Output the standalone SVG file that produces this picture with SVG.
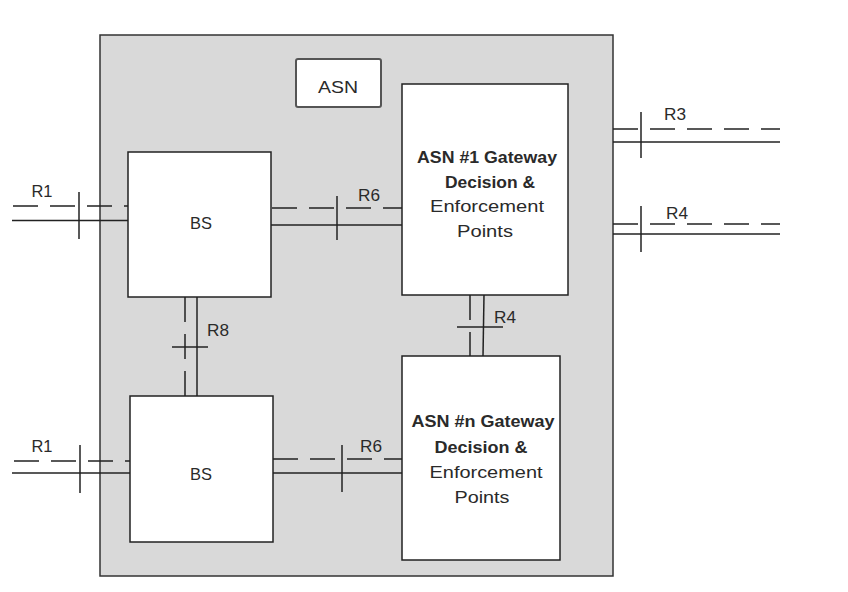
<svg xmlns="http://www.w3.org/2000/svg" width="848" height="592" viewBox="0 0 848 592">
<defs>
<style>
.bg{fill:#ffffff}
.asn{fill:#d9d9d9;stroke:#333333;stroke-width:1.5}
.box{fill:#ffffff;stroke:#222222;stroke-width:1.5}
.lbl{fill:#ffffff;stroke:#555555;stroke-width:2}
.t{font-family:"Liberation Sans",Arial,sans-serif;font-size:16.5px;fill:#2a2a2a}
.b{font-weight:bold}
.s{stroke:#222222;stroke-width:1.5;fill:none}
.d{stroke:#222222;stroke-width:1.5;fill:none;stroke-dasharray:25 12}
</style>
</defs>
<rect class="bg" x="0" y="0" width="848" height="592"/>
<g id="asn-domain">
<rect class="asn" x="100" y="35" width="513" height="541"/>
</g>
<g id="asn-label">
<rect class="lbl" x="296" y="59" width="85" height="48" rx="2"/>
<text class="t" x="338" y="93" text-anchor="middle" font-size="18" textLength="40" lengthAdjust="spacingAndGlyphs">ASN</text>
</g>
<g id="bs-top">
<rect class="box" x="128" y="152" width="143" height="145"/>
<text class="t" x="201" y="229" text-anchor="middle" textLength="22" lengthAdjust="spacingAndGlyphs">BS</text>
</g>
<g id="bs-bottom">
<rect class="box" x="130" y="396" width="143" height="146"/>
<text class="t" x="201" y="480" text-anchor="middle" textLength="22" lengthAdjust="spacingAndGlyphs">BS</text>
</g>
<g id="gw-1">
<rect class="box" x="402" y="84" width="166" height="211"/>
<text class="t b" x="487" y="163" text-anchor="middle" textLength="140" lengthAdjust="spacingAndGlyphs">ASN #1 Gateway</text>
<text class="t b" x="490" y="188" text-anchor="middle" textLength="90" lengthAdjust="spacingAndGlyphs">Decision &amp;</text>
<text class="t" x="487" y="212" text-anchor="middle" textLength="114" lengthAdjust="spacingAndGlyphs">Enforcement</text>
<text class="t" x="485" y="237" text-anchor="middle" textLength="56" lengthAdjust="spacingAndGlyphs">Points</text>
</g>
<g id="gw-n">
<rect class="box" x="402" y="356" width="158" height="204"/>
<text class="t b" x="483" y="427" text-anchor="middle" textLength="143" lengthAdjust="spacingAndGlyphs">ASN #n Gateway</text>
<text class="t b" x="481" y="453" text-anchor="middle" textLength="93" lengthAdjust="spacingAndGlyphs">Decision &amp;</text>
<text class="t" x="486" y="478" text-anchor="middle" textLength="113" lengthAdjust="spacingAndGlyphs">Enforcement</text>
<text class="t" x="482" y="503" text-anchor="middle" textLength="55" lengthAdjust="spacingAndGlyphs">Points</text>
</g>
<g id="connectors">
<line class="d" x1="13" y1="206" x2="128" y2="206"/>
<line class="s" x1="12" y1="220.5" x2="128" y2="220.5"/>
<line class="s" x1="79" y1="192" x2="79" y2="239"/>
<text class="t" x="42" y="197" text-anchor="middle" textLength="21" lengthAdjust="spacingAndGlyphs">R1</text>
<line class="d" x1="272" y1="208" x2="402" y2="208"/>
<line class="s" x1="271" y1="225" x2="402" y2="225"/>
<line class="s" x1="337" y1="196" x2="337" y2="240"/>
<text class="t" x="369" y="201" text-anchor="middle" textLength="22" lengthAdjust="spacingAndGlyphs">R6</text>
<line class="d" x1="613" y1="129" x2="780" y2="129" stroke-dasharray="25 11"/>
<line class="s" x1="613" y1="142" x2="780" y2="142"/>
<line class="s" x1="641" y1="112" x2="641" y2="158"/>
<text class="t" x="675" y="120" text-anchor="middle" textLength="22" lengthAdjust="spacingAndGlyphs">R3</text>
<line class="d" x1="613" y1="224" x2="780" y2="224" stroke-dasharray="25 11"/>
<line class="s" x1="613" y1="234" x2="780" y2="234"/>
<line class="s" x1="641" y1="206" x2="641" y2="252"/>
<text class="t" x="677" y="219" text-anchor="middle" textLength="22" lengthAdjust="spacingAndGlyphs">R4</text>
<line class="d" x1="185" y1="297" x2="185" y2="396" stroke-dasharray="26 10"/>
<line class="s" x1="197" y1="297" x2="197" y2="396"/>
<line class="s" x1="172" y1="347" x2="208" y2="347"/>
<text class="t" x="218" y="336" text-anchor="middle" textLength="22" lengthAdjust="spacingAndGlyphs">R8</text>
<line class="d" x1="470" y1="295" x2="470" y2="356" stroke-dasharray="25 10"/>
<line class="s" x1="484" y1="295" x2="483" y2="356"/>
<line class="s" x1="457" y1="327" x2="503" y2="327"/>
<text class="t" x="505" y="323" text-anchor="middle" textLength="22" lengthAdjust="spacingAndGlyphs">R4</text>
<line class="d" x1="14" y1="461" x2="130" y2="461"/>
<line class="s" x1="12" y1="473" x2="130" y2="473"/>
<line class="s" x1="80" y1="445" x2="80" y2="493"/>
<text class="t" x="42" y="452" text-anchor="middle" textLength="21" lengthAdjust="spacingAndGlyphs">R1</text>
<line class="d" x1="273" y1="459" x2="402" y2="459"/>
<line class="s" x1="273" y1="473" x2="402" y2="473"/>
<line class="s" x1="342" y1="445" x2="342" y2="492"/>
<text class="t" x="371" y="452" text-anchor="middle" textLength="22" lengthAdjust="spacingAndGlyphs">R6</text>
</g>
</svg>
